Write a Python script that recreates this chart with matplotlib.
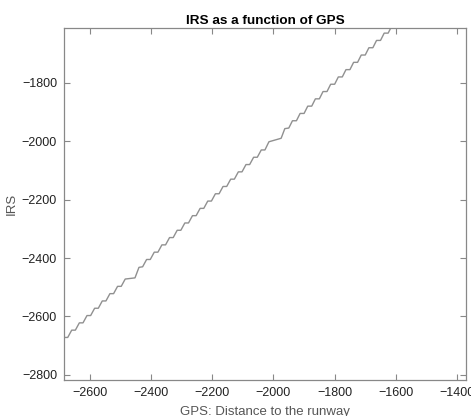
import matplotlib
matplotlib.use("Agg")
import matplotlib.pyplot as plt

plt.rcParams['font.family'] = ['Liberation Sans', 'DejaVu Sans']

# GPS distance (x) and IRS reading (y) at the corners of the stair-like trace
gps = [-2685, -2673, -2660, -2648, -2635, -2623, -2610, -2598, -2585, -2573,
       -2560, -2548, -2535, -2523, -2510, -2498, -2485, -2453, -2440, -2428,
       -2415, -2403, -2390, -2378, -2365, -2353, -2340, -2328, -2315, -2303,
       -2290, -2278, -2265, -2253, -2240, -2228, -2215, -2203, -2190, -2178,
       -2165, -2153, -2140, -2128, -2115, -2103, -2090, -2078, -2065, -2053,
       -2040, -2028, -2015, -1975, -1963, -1950, -1938, -1925, -1913, -1900,
       -1888, -1875, -1863, -1850, -1838, -1825, -1813, -1800, -1788, -1775,
       -1763, -1750, -1738, -1725, -1713, -1700, -1688, -1675, -1663, -1650,
       -1638, -1625, -1613]
irs = [-2672, -2672, -2647, -2647, -2622, -2622, -2597, -2597, -2572, -2572,
       -2547, -2547, -2522, -2522, -2497, -2497, -2472, -2468, -2432, -2430,
       -2405, -2405, -2380, -2380, -2355, -2355, -2330, -2330, -2305, -2305,
       -2280, -2280, -2255, -2255, -2230, -2230, -2205, -2205, -2180, -2180,
       -2155, -2155, -2130, -2130, -2105, -2105, -2080, -2080, -2055, -2055,
       -2030, -2030, -2002, -1990, -1957, -1955, -1930, -1930, -1905, -1905,
       -1880, -1880, -1855, -1855, -1830, -1830, -1805, -1805, -1780, -1780,
       -1755, -1755, -1730, -1730, -1705, -1705, -1680, -1680, -1655, -1655,
       -1630, -1630, -1605]

xticks = [-2600, -2400, -2200, -2000, -1800, -1600, -1400]
yticks = [-2800, -2600, -2400, -2200, -2000, -1800]

fig = plt.figure(figsize=(4.71, 4.16), dpi=100)
ax = fig.add_axes([0.136, 0.087, 0.853, 0.846])
ax.plot(gps, irs, color="#909090", linewidth=1.0)
ax.set_xlim(-2685, -1371)
ax.set_ylim(-2817, -1612)
ax.set_xticks(xticks)
ax.set_yticks(yticks)
ax.tick_params(direction="in", top=True, right=True, length=4, width=0.8,
               color="#888888", labelsize=9, labelcolor="#222222", pad=5)
for s in ax.spines.values():
    s.set_color("#888888")
    s.set_linewidth(0.9)
ax.set_title("IRS as a function of GPS", fontsize=9.7, fontweight="bold", pad=3)
ax.set_xlabel("GPS: Distance to the runway", fontsize=9.5, color="#555555", labelpad=5)
ax.set_ylabel("IRS", fontsize=9.5, color="#555555", labelpad=3)
fig.savefig("out.png", dpi=100)
